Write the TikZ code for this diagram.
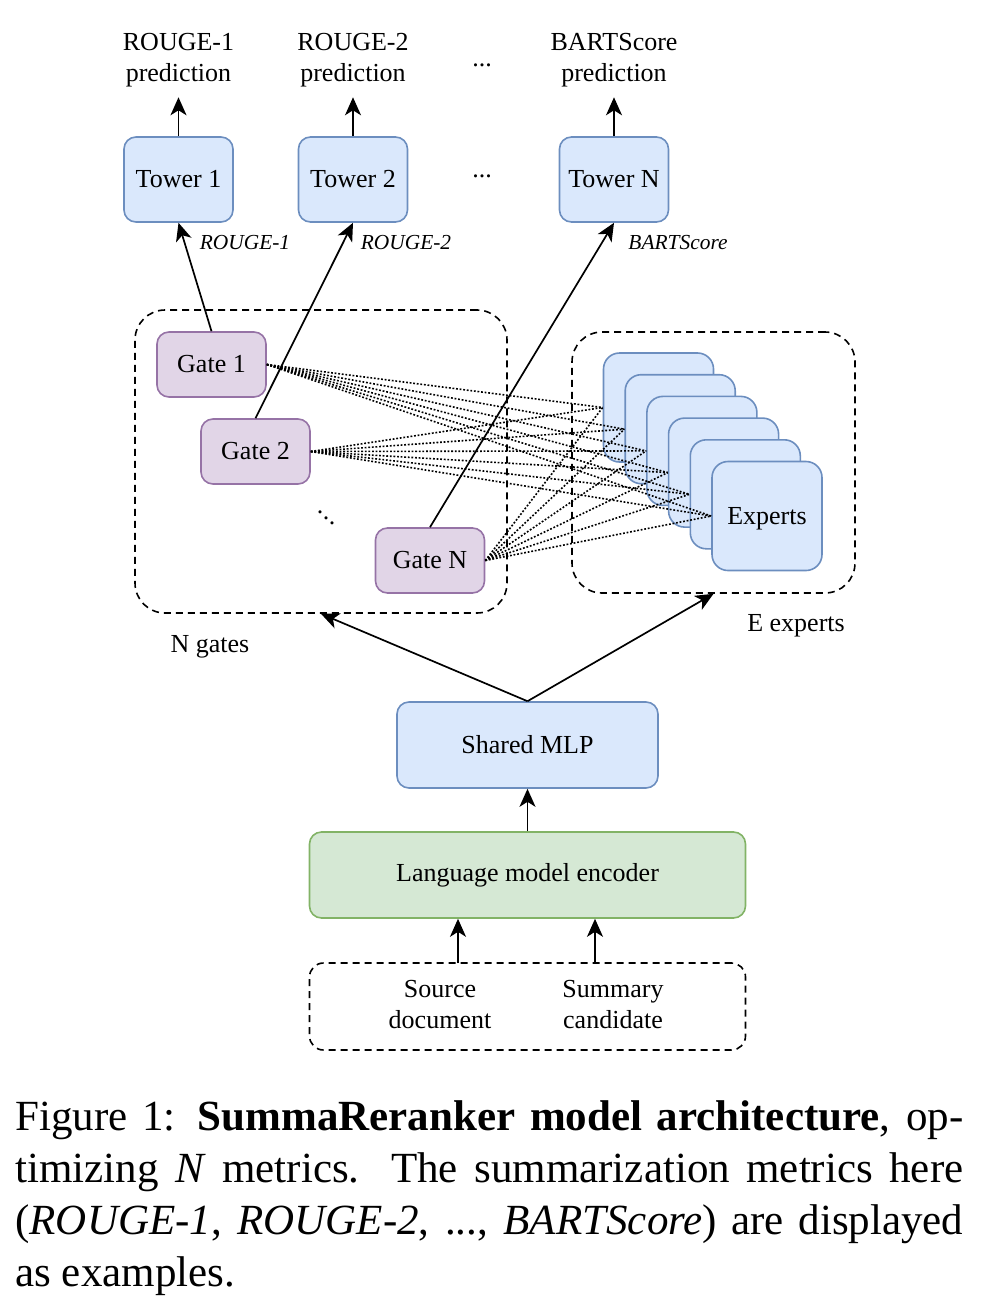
\documentclass[tikz,border=0pt]{standalone}
\usepackage{fontspec}
\setmainfont{Liberation Serif}
\usetikzlibrary{arrows.meta}
\definecolor{bluefill}{HTML}{DAE8FC}
\definecolor{blueline}{HTML}{6C8EBF}
\definecolor{purfill}{HTML}{E1D5E7}
\definecolor{purline}{HTML}{9673A6}
\definecolor{grnfill}{HTML}{D5E8D4}
\definecolor{grnline}{HTML}{82B366}
\begin{document}
\begin{tikzpicture}[x=0.5pt,y=-0.5pt,
  main/.style={font=\fontsize{13}{15.5}\selectfont, align=center},
  lbl/.style={font=\fontsize{10.7}{12}\selectfont\itshape, inner sep=0pt},
  box/.style={main, line width=0.8pt, rounded corners=6pt, inner sep=0pt},
  bluebox/.style={box, draw=blueline, fill=bluefill},
  gatebox/.style={box, draw=purline, fill=purfill, minimum width=54.5pt, minimum height=32.5pt},
  towerbox/.style={bluebox, minimum width=54.5pt, minimum height=42.5pt},
  expbox/.style={bluebox, minimum width=55pt, minimum height=54.5pt, rounded corners=8pt},
  group/.style={draw, line width=0.8pt, dash pattern=on 3.5pt off 2.5pt, rounded corners=15pt, inner sep=0pt},
  arr/.style={line width=0.85pt, -{Stealth[length=9pt,width=8pt,inset=2.5pt]}},
  dotline/.style={line width=0.8pt, dash pattern=on 0.9pt off 0.9pt}
]
\useasboundingbox (0,0) rectangle (981,1301);

% group boxes
\node[group, minimum width=186pt, minimum height=151.5pt] (ngates) at (321,461.5) {};
\node[group, minimum width=141.5pt, minimum height=130.5pt] (eexp) at (713.5,462.5) {};
\node[main] (nglbl) at (210,647) {N gates};
\node[main] (eelbl) at (796,626) {E experts};

% towers
\node[towerbox] (t1) at (178.5,179.5) {Tower 1};
\node[towerbox] (t2) at (353,179.5) {Tower 2};
\node[towerbox] (tn) at (614,179.5) {Tower N};
\node[main, inner sep=0pt] (tdots) at (482,176) {...};

% predictions
\node[main, inner sep=0pt] (p1) at (178.5,60) {ROUGE-1\\prediction};
\node[main, inner sep=0pt] (p2) at (353,60) {ROUGE-2\\prediction};
\node[main, inner sep=0pt] (pn) at (614,60) {BARTScore\\prediction};
\node[main, inner sep=0pt] (pdots) at (482,65) {...};
\draw[arr] (t1.north) -- ([yshift=-5pt]p1.south);
\draw[arr] (t2.north) -- ([yshift=-5pt]p2.south);
\draw[arr] (tn.north) -- ([yshift=-5pt]pn.south);

% experts stack
\foreach \i in {0,...,5}{
  \node[expbox] (e\i) at ({658.5+21.7*\i},{407.5+21.7*\i}) {};
}
\node[main] at ([yshift=-1.5pt]e5.center) {Experts};

% gates
\node[gatebox] (g1) at (211.5,364.5) {Gate 1};
\node[gatebox] (g2) at (255.5,451.5) {Gate 2};
\node[gatebox] (gn) at (430,560.5) {Gate N};
\node[main, inner sep=0pt] (gdots) at (326,518) {\raisebox{5.5pt}{.}\kern-0.25pt\raisebox{2.75pt}{.}\kern-0.25pt.};

% dotted gate-expert links
\foreach \g in {g1,g2,gn}{
  \foreach \i in {0,...,5}{
    \draw[dotline] (\g.east) -- (e\i.west);
  }
}

% gate to tower
\draw[arr] (g1.north) -- (t1.south);
\draw[arr] (g2.north) -- (t2.south);
\draw[arr] (gn.north) -- (tn.south);
\node[lbl] (l1) at (245,243) {ROUGE-1};
\node[lbl] (l2) at (406,243) {ROUGE-2};
\node[lbl] (ln) at (678,243) {BARTScore};

% shared MLP and encoder
\node[bluebox, minimum width=130.5pt, minimum height=43pt] (mlp) at (527.5,745) {Shared MLP};
\node[box, draw=grnline, fill=grnfill, minimum width=218pt, minimum height=43pt] (lm) at (527.5,875) {Language model encoder};
\draw[arr] (mlp.north) -- (ngates.south);
\draw[arr] (mlp.north) -- (eexp.south);
\draw[arr] (lm.north) -- (mlp.south);

% inputs
\node[group, rounded corners=7pt, minimum width=218pt, minimum height=43.5pt] (inputs) at (527.5,1006.5) {};
\node[main, inner sep=0pt] (src) at (440,1005) {Source\\document};
\node[main, inner sep=0pt] (sum) at (613,1005) {Summary\\candidate};
\coordinate (in1) at (458,963);
\coordinate (in2) at (595,963);
\draw[arr] (in1) -- (in1 |- lm.south);
\draw[arr] (in2) -- (in2 |- lm.south);

% caption
\node[anchor=north west, text width=474pt, align=justify, inner sep=0pt,
      font=\fontsize{21.5}{26}\selectfont] (cap) at (15,1100)
  {Figure 1: \textbf{SummaReranker model architecture}, op-\linebreak
   timizing \textit{N} metrics. The summarization metrics here\linebreak
   (\textit{ROUGE-1}, \textit{ROUGE-2}, ..., \textit{BARTScore}) are displayed\linebreak
   as examples.};
\end{tikzpicture}
\end{document}
